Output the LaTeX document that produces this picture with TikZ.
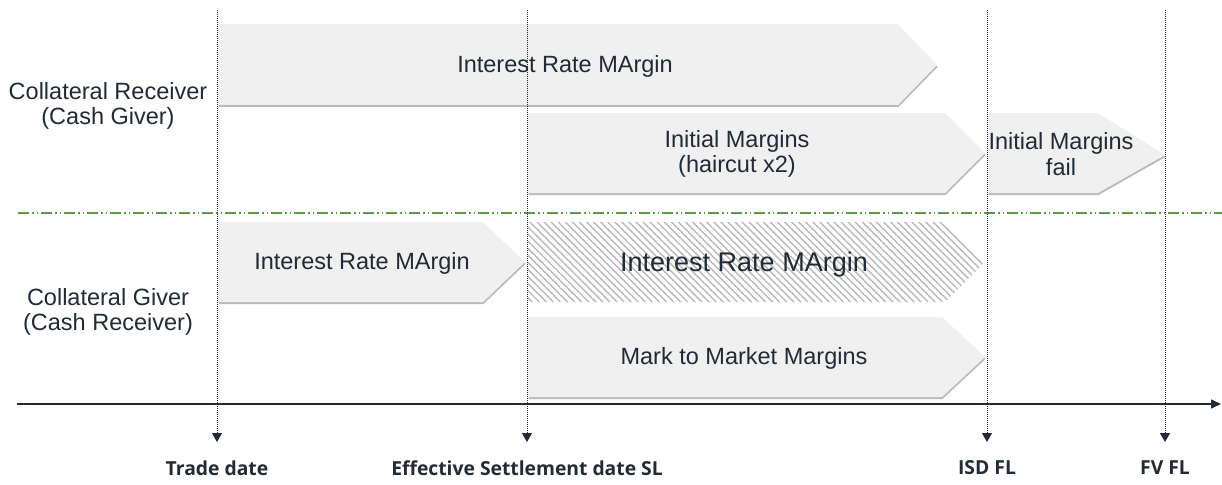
\documentclass[tikz,border=0pt]{standalone}
\usepackage{fontspec}
\setmainfont{Liberation Sans}
\newfontfamily\datefont{Open Sans}[BoldFont={* Bold}]
\usetikzlibrary{arrows.meta,patterns.meta,shadows}
\definecolor{txt}{HTML}{222A35}
\definecolor{boxfill}{HTML}{F0F0F0}
\definecolor{sepgreen}{HTML}{5A9A48}
\tikzset{
  x=1pt, y=-1pt,
  bar/.style={fill=boxfill, draw=none, drop shadow={shadow xshift=0.5pt, shadow yshift=-2pt, fill=black!45, opacity=0.6}},
  hatchbar/.style={pattern={Lines[angle=-45,distance=5pt,line width=1.4pt]}, pattern color=black!28},
  lbl/.style={text=txt, font=\fontsize{23.5}{25.5}\selectfont, align=center},
  sidelbl/.style={text=txt, font=\fontsize{23.5}{24.5}\selectfont, align=center},
  datelbl/.style={text=txt, font=\datefont\bfseries\fontsize{19.3}{22}\selectfont},
  vline/.style={draw=txt, line width=1pt, densely dotted, -{Triangle[length=9pt,width=10pt]}},
}
\begin{document}
\begin{tikzpicture}
\useasboundingbox (0,0) rectangle (1222,484);
% time coordinates
\coordinate (t1top) at (217,10); \coordinate (t1bot) at (217,442);
\coordinate (t2top) at (527,10); \coordinate (t2bot) at (527,442);
\coordinate (t3top) at (987,10); \coordinate (t3bot) at (987,442);
\coordinate (t4top) at (1165,10); \coordinate (t4bot) at (1165,442);

% bars
\path[bar] (218,24) -- (898,24) -- (937,65) -- (898,105) -- (218,105) -- cycle;
\node[lbl] (irm1) at (565,66) {Interest Rate MArgin};

\path[bar] (528,113) -- (945,113) -- (985,153) -- (945,193) -- (528,193) -- cycle;
\node[lbl] (im) at (737,154) {Initial Margins\\ (haircut x2)};

\path[bar] (988,113) -- (1098,113) -- (1165,155) -- (1098,193) -- (988,193) -- cycle;
\node[lbl] (imf) at (1061,154) {Initial Margins\\ fail};

\path[bar] (218,222) -- (483,222) -- (525,262) -- (483,302) -- (218,302) -- cycle;
\node[lbl] (irm2) at (362,263) {Interest Rate MArgin};

\path[hatchbar] (528,222) -- (945,222) -- (985,262) -- (945,302) -- (528,302) -- cycle;
\node[lbl, font=\fontsize{27}{30}\selectfont] (irm3) at (744,265) {Interest Rate MArgin};

\path[bar] (528,317) -- (942,317) -- (985,357) -- (942,397) -- (528,397) -- cycle;
\node[lbl] (mtm) at (744,358) {Mark to Market Margins};

% separator
\coordinate (sepL) at (18,213); \coordinate (sepR) at (1222,213);
\draw[sepgreen, line width=1.1pt, dash pattern=on 11pt off 3pt on 1.5pt off 3pt on 1.5pt off 3pt] (sepL) -- (sepR);

% axis
\coordinate (axL) at (17,404); \coordinate (axR) at (1221,404);
\draw[txt, line width=1.4pt, -{Triangle[length=10pt,width=9pt]}] (axL) -- (axR);

% vertical dotted lines
\draw[vline] (t1top) -- (t1bot);
\draw[vline] (t2top) -- (t2bot);
\draw[vline] (t3top) -- (t3bot);
\draw[vline] (t4top) -- (t4bot);

% side labels
\node[sidelbl] (cr) at (108,106) {Collateral Receiver\\(Cash Giver)};
\node[sidelbl] (cg) at (108,312) {Collateral Giver\\(Cash Receiver)};

% date labels
\node[datelbl] (d1) at (217,468) {Trade date};
\node[datelbl] (d2) at (527,468) {Effective Settlement date SL};
\node[datelbl] (d3) at (987,468) {ISD FL};
\node[datelbl] (d4) at (1165,468) {FV FL};
\end{tikzpicture}
\end{document}
